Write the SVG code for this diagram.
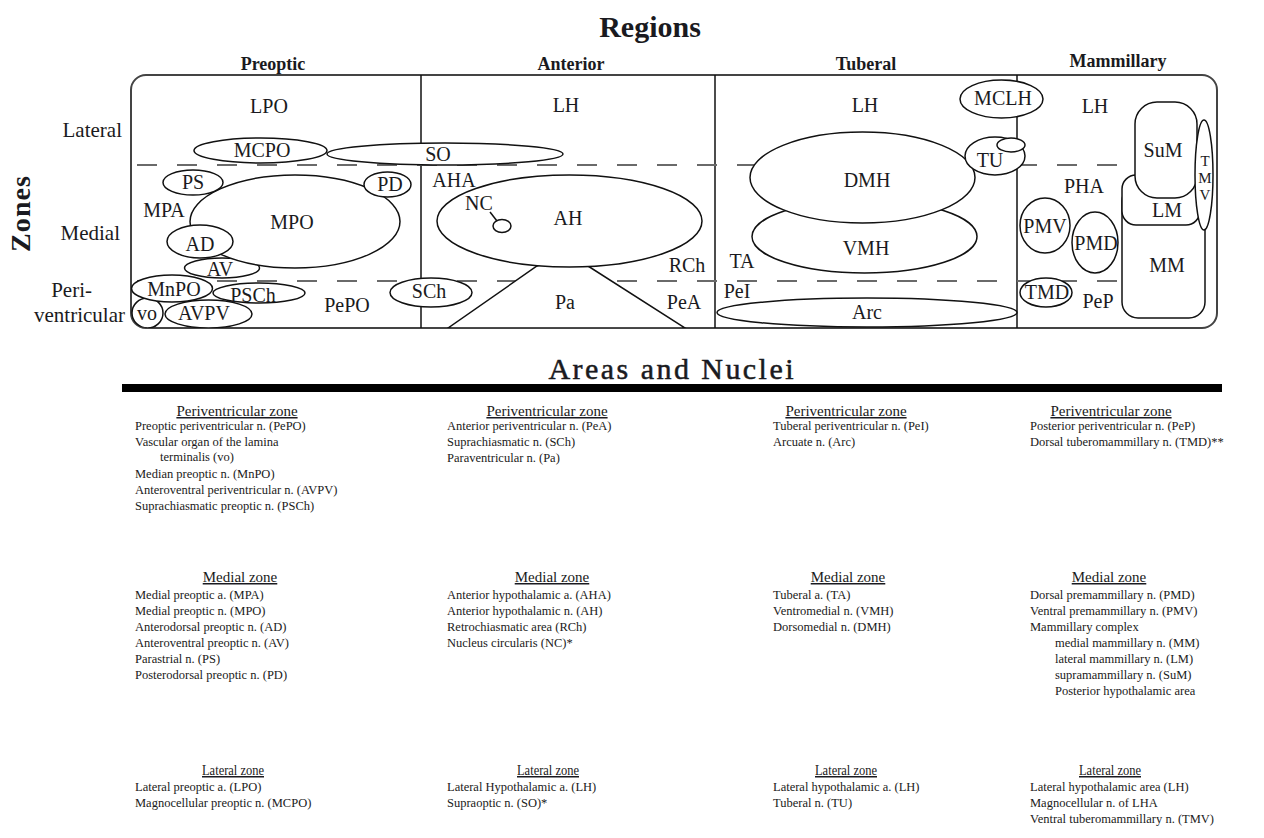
<svg xmlns="http://www.w3.org/2000/svg" width="1264" height="838" viewBox="0 0 1264 838">
<style>
text{font-family:"Liberation Serif","Times New Roman",serif;fill:#1a1a20}
.t{font-weight:bold;font-size:30px}
.rg{font-weight:bold;font-size:18px;text-anchor:middle}
.zl{font-family:"Liberation Serif",serif;font-size:21px;text-anchor:end}
.lb{font-family:"Liberation Serif",serif;font-size:20px;text-anchor:middle}
.sm{font-family:"Liberation Serif",serif;font-size:15px;text-anchor:middle}
.sh{fill:#fff;stroke:#111;stroke-width:1.5}
.dv{stroke:#111;stroke-width:1.5;fill:none}
.da{stroke:#6a6a6a;stroke-width:2;stroke-dasharray:20 20;fill:none}
.hd{font-size:15px;text-anchor:middle;text-decoration:underline}
.it{font-size:12.5px}
</style>
<defs>
<clipPath id="boxclip"><rect x="131" y="75" width="1086" height="253" rx="15"/></clipPath>
</defs>

<g id="titles">
<text class="t" x="650" y="37" text-anchor="middle">Regions</text>
<text class="t" transform="translate(30,214) rotate(-90)" text-anchor="middle" style="font-size:28px" textLength="76" lengthAdjust="spacing">Zones</text>
<text class="rg" x="273" y="70">Preoptic</text>
<text class="rg" x="571" y="70">Anterior</text>
<text class="rg" x="866" y="70">Tuberal</text>
<text class="rg" x="1118" y="67">Mammillary</text>
<text class="zl" x="122" y="137">Lateral</text>
<text class="zl" x="120" y="240">Medial</text>
<text class="zl" x="92" y="297">Peri-</text>
<text class="zl" x="125" y="322">ventricular</text>
</g>

<g id="frame">
<rect x="131" y="75" width="1086" height="253" rx="15" fill="#fff" stroke="#444" stroke-width="2"/>
<line class="dv" x1="421" y1="75" x2="421" y2="328"/>
<line class="dv" x1="715" y1="75" x2="715" y2="328"/>
<line class="dv" x1="1017" y1="75" x2="1017" y2="328"/>
<line class="da" x1="137" y1="165" x2="1216" y2="165"/>
<line class="da" x1="137" y1="281" x2="1216" y2="281"/>
</g>

<g clip-path="url(#boxclip)">
<g id="preoptic">
<ellipse class="sh" cx="445" cy="154" rx="118" ry="11"/>
<ellipse class="sh" cx="260.5" cy="150.5" rx="66.5" ry="12.5"/>
<ellipse class="sh" cx="222" cy="268" rx="37.5" ry="10"/>
<ellipse class="sh" cx="295" cy="221.5" rx="105" ry="46.5"/>
<ellipse class="sh" cx="193" cy="182.5" rx="30" ry="12.5"/>
<ellipse class="sh" cx="387.5" cy="184.5" rx="23.5" ry="12.5"/>
<ellipse class="sh" cx="200" cy="241.5" rx="33" ry="16.5"/>
<ellipse class="sh" cx="259" cy="293" rx="46" ry="10"/>
<ellipse class="sh" cx="208.5" cy="314" rx="43.5" ry="14"/>
<ellipse class="sh" cx="147.5" cy="313" rx="15.5" ry="15"/>
<ellipse class="sh" cx="172" cy="288.5" rx="40.5" ry="13.5"/>
<ellipse class="sh" cx="431" cy="292.5" rx="41" ry="14.5"/>
</g>
<g id="anterior">
<path class="sh" d="M448,328 L537,266 Q562,254 588,266 L685,328 Z"/>
<ellipse class="sh" cx="569.5" cy="221" rx="132.5" ry="46"/>
<ellipse class="sh" cx="502" cy="226" rx="9" ry="6.5"/>
<line class="dv" x1="490" y1="212" x2="497" y2="221"/>
</g>
<g id="tuberal">
<ellipse class="sh" cx="864.5" cy="236.5" rx="112.5" ry="36.5"/>
<ellipse class="sh" cx="862.5" cy="177.5" rx="112.5" ry="45.5"/>
<ellipse class="sh" cx="1001.5" cy="99" rx="41.5" ry="19"/>
<ellipse class="sh" cx="995" cy="156" rx="30" ry="19"/>
<ellipse class="sh" cx="1011" cy="145" rx="14" ry="7"/>
<ellipse class="sh" cx="867" cy="312.5" rx="150" ry="14.5"/>
</g>
<g id="mammillary">
<rect class="sh" x="1122" y="185" width="83" height="133" rx="16"/>
<rect class="sh" x="1122" y="175" width="78" height="50" rx="14"/>
<rect class="sh" x="1135" y="102" width="62" height="96" rx="22"/>
<ellipse class="sh" cx="1204" cy="175" rx="9" ry="55"/>
<ellipse class="sh" cx="1045" cy="225.5" rx="25" ry="27.5"/>
<ellipse class="sh" cx="1095" cy="242.5" rx="23" ry="30.5"/>
<ellipse class="sh" cx="1046" cy="292.5" rx="26" ry="14.5"/>
</g>
</g>

<g id="labels">
<text class="lb" x="269" y="113">LPO</text>
<text class="lb" x="262" y="157">MCPO</text>
<text class="lb" x="438" y="161">SO</text>
<text class="lb" x="193" y="189">PS</text>
<text class="lb" x="390" y="191">PD</text>
<text class="lb" x="164" y="217">MPA</text>
<text class="lb" x="292" y="229">MPO</text>
<text class="lb" x="200" y="251">AD</text>
<text class="lb" x="220" y="276">AV</text>
<text class="lb" x="174" y="296">MnPO</text>
<text class="lb" x="253" y="302">PSCh</text>
<text class="lb" x="147" y="320">vo</text>
<text class="lb" x="204" y="320">AVPV</text>
<text class="lb" x="347" y="312">PePO</text>
<text class="lb" x="429" y="298">SCh</text>
<text class="lb" x="566" y="112">LH</text>
<text class="lb" x="454" y="187">AHA</text>
<text class="lb" x="479" y="210">NC</text>
<text class="lb" x="568" y="225">AH</text>
<text class="lb" x="687" y="272">RCh</text>
<text class="lb" x="565" y="309">Pa</text>
<text class="lb" x="684" y="309">PeA</text>
<text class="lb" x="865" y="112">LH</text>
<text class="lb" x="1003" y="105">MCLH</text>
<text class="lb" x="867" y="187">DMH</text>
<text class="lb" x="866" y="255">VMH</text>
<text class="lb" x="990" y="167">TU</text>
<text class="lb" x="742" y="268">TA</text>
<text class="lb" x="737" y="298">PeI</text>
<text class="lb" x="867" y="319">Arc</text>
<text class="lb" x="1095" y="113">LH</text>
<text class="lb" x="1163" y="157">SuM</text>
<text class="sm" x="1205" y="166">T</text>
<text class="sm" x="1205" y="183">M</text>
<text class="sm" x="1205" y="200">V</text>
<text class="lb" x="1084" y="193">PHA</text>
<text class="lb" x="1167" y="217">LM</text>
<text class="lb" x="1045" y="233">PMV</text>
<text class="lb" x="1096" y="250">PMD</text>
<text class="lb" x="1167" y="272">MM</text>
<text class="lb" x="1047" y="299">TMD</text>
<text class="lb" x="1098" y="308">PeP</text>
</g>

<g id="areas-title">
<text x="671" y="379" text-anchor="middle" style="font-size:30px;stroke:#1a1a20;stroke-width:0.5" textLength="245" lengthAdjust="spacing">Areas and Nuclei</text>
<rect x="122" y="384" width="1100" height="8" fill="#000"/>
</g>

<g id="col-preoptic">
<text class="hd" x="237" y="416">Periventricular zone</text>
<text class="it" x="135" y="430">Preoptic periventricular n. (PePO)</text>
<text class="it" x="135" y="446">Vascular organ of the lamina</text>
<text class="it" x="160" y="461">terminalis (vo)</text>
<text class="it" x="135" y="478">Median preoptic n. (MnPO)</text>
<text class="it" x="135" y="494">Anteroventral periventricular n. (AVPV)</text>
<text class="it" x="135" y="510">Suprachiasmatic preoptic n. (PSCh)</text>
<text class="hd" x="240" y="582">Medial zone</text>
<text class="it" x="135" y="599">Medial preoptic a. (MPA)</text>
<text class="it" x="135" y="615">Medial preoptic n. (MPO)</text>
<text class="it" x="135" y="631">Anterodorsal preoptic n. (AD)</text>
<text class="it" x="135" y="647">Anteroventral preoptic n. (AV)</text>
<text class="it" x="135" y="663">Parastrial n. (PS)</text>
<text class="it" x="135" y="679">Posterodorsal preoptic n. (PD)</text>
<text class="hd" x="233" y="775" textLength="62" lengthAdjust="spacingAndGlyphs">Lateral zone</text>
<text class="it" x="135" y="791">Lateral preoptic a. (LPO)</text>
<text class="it" x="135" y="807">Magnocellular preoptic n. (MCPO)</text>
</g>

<g id="col-anterior">
<text class="hd" x="547" y="416">Periventricular zone</text>
<text class="it" x="447" y="430">Anterior periventricular n. (PeA)</text>
<text class="it" x="447" y="446">Suprachiasmatic n. (SCh)</text>
<text class="it" x="447" y="462">Paraventricular n. (Pa)</text>
<text class="hd" x="552" y="582">Medial zone</text>
<text class="it" x="447" y="599">Anterior hypothalamic a. (AHA)</text>
<text class="it" x="447" y="615">Anterior hypothalamic n. (AH)</text>
<text class="it" x="447" y="631">Retrochiasmatic area (RCh)</text>
<text class="it" x="447" y="647">Nucleus circularis (NC)*</text>
<text class="hd" x="548" y="775" textLength="62" lengthAdjust="spacingAndGlyphs">Lateral zone</text>
<text class="it" x="447" y="791">Lateral Hypothalamic a. (LH)</text>
<text class="it" x="447" y="807">Supraoptic n. (SO)*</text>
</g>

<g id="col-tuberal">
<text class="hd" x="846" y="416">Periventricular zone</text>
<text class="it" x="773" y="430">Tuberal periventricular n. (PeI)</text>
<text class="it" x="773" y="446">Arcuate n. (Arc)</text>
<text class="hd" x="848" y="582">Medial zone</text>
<text class="it" x="773" y="599">Tuberal a. (TA)</text>
<text class="it" x="773" y="615">Ventromedial n. (VMH)</text>
<text class="it" x="773" y="631">Dorsomedial n. (DMH)</text>
<text class="hd" x="846" y="775" textLength="62" lengthAdjust="spacingAndGlyphs">Lateral zone</text>
<text class="it" x="773" y="791">Lateral hypothalamic a. (LH)</text>
<text class="it" x="773" y="807">Tuberal  n. (TU)</text>
</g>

<g id="col-mammillary">
<text class="hd" x="1111" y="416">Periventricular zone</text>
<text class="it" x="1030" y="430">Posterior periventricular n. (PeP)</text>
<text class="it" x="1030" y="446">Dorsal tuberomammillary n. (TMD)**</text>
<text class="hd" x="1109" y="582">Medial zone</text>
<text class="it" x="1030" y="599">Dorsal premammillary n. (PMD)</text>
<text class="it" x="1030" y="615">Ventral premammillary n. (PMV)</text>
<text class="it" x="1030" y="631">Mammillary complex</text>
<text class="it" x="1055" y="647">medial mammillary n. (MM)</text>
<text class="it" x="1055" y="663">lateral mammillary n. (LM)</text>
<text class="it" x="1055" y="679">supramammillary n. (SuM)</text>
<text class="it" x="1055" y="695">Posterior hypothalamic area</text>
<text class="hd" x="1110" y="775" textLength="62" lengthAdjust="spacingAndGlyphs">Lateral zone</text>
<text class="it" x="1030" y="791">Lateral hypothalamic area (LH)</text>
<text class="it" x="1030" y="807">Magnocellular n. of LHA</text>
<text class="it" x="1030" y="823">Ventral tuberomammillary n. (TMV)</text>
</g>
</svg>
